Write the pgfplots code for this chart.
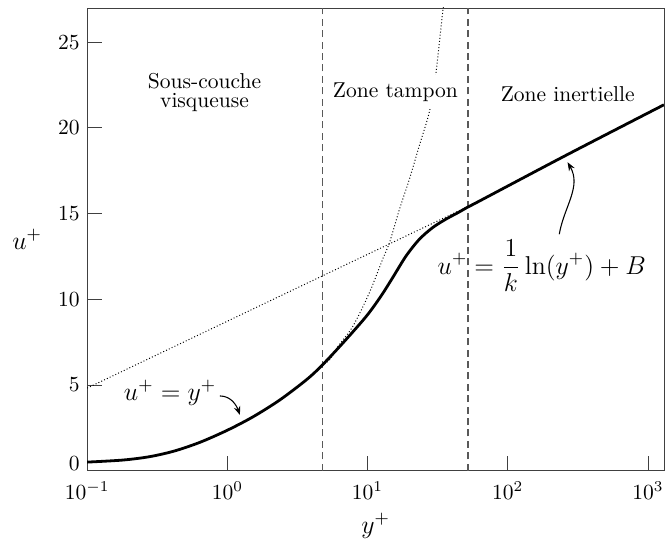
\documentclass[border=0pt]{standalone}
\usepackage{pgfplots}
\pgfplotsset{compat=1.18}
\usetikzlibrary{arrows.meta}
\begin{document}
\begin{tikzpicture}
\begin{axis}[
  scale only axis, width=268pt, height=215pt,
  xmode=log, log basis x=10,
  xmin=0.1, xmax=1300, ymin=0, ymax=27,
  xtick={0.1,1,10,100,1000},
  ytick={0,5,10,15,20,25},
  yticklabels={\raisebox{3.3pt}[6.4pt][0pt]{0},5,10,15,20,25},
  tick pos=left,
  major tick length=7pt, minor tick length=3.5pt,
  xticklabel style={yshift=-1.5pt},
  xlabel={$y^+$}, ylabel={$u^+$},
  every axis x label/.style={at={(axis description cs:0.5,0)}, anchor=center, yshift=-25.6pt, font=\large},
  every axis y label/.style={at={(axis description cs:0,0.5)}, anchor=center, xshift=-27.9pt, font=\large},
  axis line style={black!75},
  every tick/.style={black!75},
]
% zone boundaries
\addplot[black!65, line width=0.55pt, dash pattern=on 3.3pt off 2pt] coordinates {(4.8,0) (4.8,27)};
\addplot[black!65, line width=0.55pt, dash pattern=on 3.3pt off 2pt] coordinates {(52,0) (52,27)};
% log law (dotted)
\addplot[black, line width=0.45pt, dash pattern=on 0.45pt off 1pt] coordinates {(0.1,4.82) (50,15.35)};
% linear law (dotted)
\addplot[black, line width=0.45pt, dash pattern=on 0.45pt off 1pt, smooth] coordinates {
(4.7,6.15) (5.37,6.47) (6.15,7.25) (7.85,8.42) (10.3,10.38) (12.8,12.33) (14.35,13.31)
(16.9,15.26) (19.9,17.02) (23.4,18.97) (27.6,20.93) (30.5,22.97) (34.4,26.8) (35.5,27.6)};
% profile
\addplot[black, line width=1.3pt, smooth] coordinates {
(0.1,0.5) (0.18,0.62) (0.28,0.82) (0.42,1.15) (0.64,1.66) (1.0,2.36) (1.53,3.15)
(2.37,4.13) (3.66,5.30) (4.7,6.12) (6.67,7.45) (9.8,9.01) (12.5,10.2) (15.1,11.26)
(18.8,12.52) (23.4,13.5) (29.2,14.19) (36.3,14.68) (45.2,15.1) (51.8,15.38) (62.7,15.73)
(260,18.4) (1300,21.35)};
% labels
\node[align=center, inner sep=1pt] at (axis cs:0.687,22.08) {Sous-couche\\[-3pt]visqueuse};
\node[fill=white] at (axis cs:15.8,22.1) {Zone tampon};
\node at (axis cs:268,21.97) {Zone inertielle};
\node[font=\large] at (axis cs:0.39,4.54) {$u^+=y^+$};
\node[font=\large] at (axis cs:174.6,11.95) {$\displaystyle u^+=\frac{1}{k}\ln(y^+)+B$};
\draw[-{Stealth[length=4pt,width=3pt]}, line width=0.5pt] (axis cs:0.885,4.36) to[out=0,in=110] (axis cs:1.23,3.25);
\draw[-{Stealth[length=4pt,width=3pt]}, line width=0.5pt] (axis cs:233,13.8) to[out=80,in=-60] (axis cs:267,18.0);
\end{axis}
\pgfresetboundingbox
\path ([xshift=-40.5pt,yshift=-32.5pt]current axis.south west) rectangle ([xshift=0.5pt,yshift=3.7pt]current axis.north east);
\end{tikzpicture}
\end{document}
